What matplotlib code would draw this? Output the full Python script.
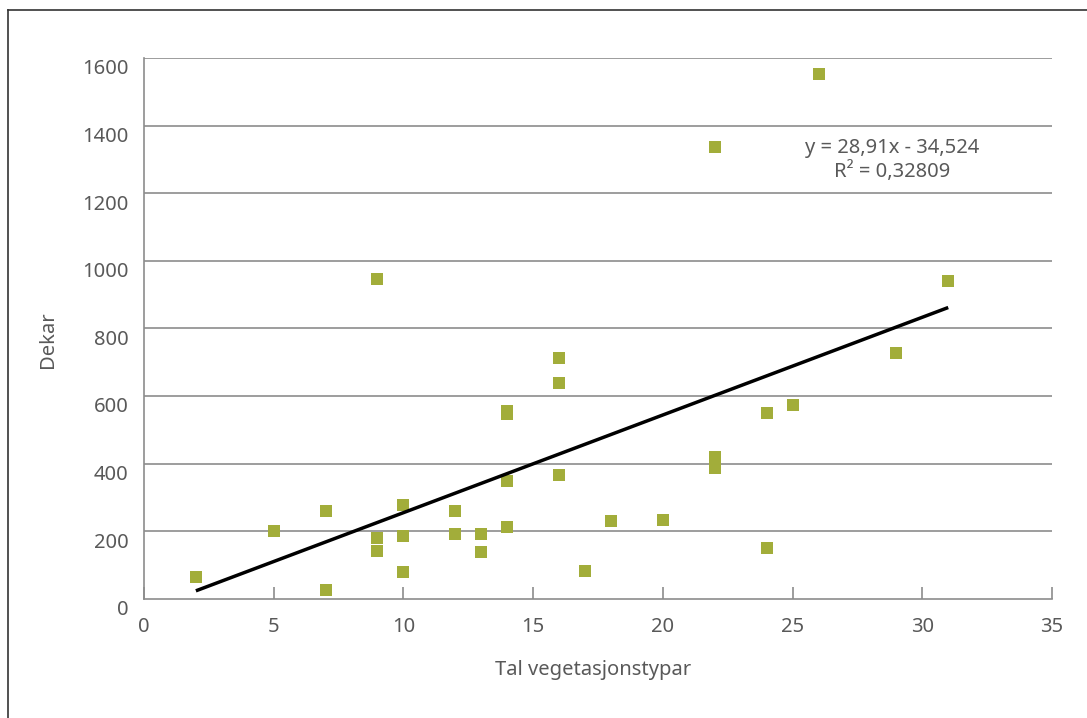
import matplotlib
matplotlib.use("Agg")
import matplotlib.pyplot as plt
import matplotlib.transforms as mtransforms
from matplotlib.lines import Line2D
import numpy as np

# data
tal = [2, 5, 7, 7, 9, 9, 9, 10, 10, 10, 12, 12, 13, 13, 14, 14, 14, 14,
       16, 16, 16, 17, 18, 20, 22, 22, 22, 24, 24, 25, 26, 29, 31]
dekar = [65, 201, 260, 26, 945, 180, 141, 278, 186, 80, 259, 190, 190, 139,
         555, 546, 349, 211, 713, 639, 366, 83, 231, 234, 1336, 419, 387,
         550, 151, 574, 1553, 726, 939]

# trendline from the label
slope = 28.91
intercept = -34.524
r2 = 0.32809
trend_x = [2, 31]

grey = "#595959"
gridc = "#8c8c8c"
green = "#a2ad3a"
fs = 14.5

plt.rcParams['font.family'] = ['Noto Sans', 'DejaVu Sans']

fig = plt.figure(figsize=(10.87, 7.18), dpi=100)
W, H = 1087, 718
ax = fig.add_axes([144 / W, 1 - 598.7 / H, (1052 - 144) / W, (598.7 - 58) / H])

ax.scatter(tal, dekar, marker="s", s=78, color=green, linewidths=0, zorder=3)
tx = np.array(trend_x)
ax.plot(tx, slope * tx + intercept, color="black", lw=2.5, zorder=4,
        solid_capstyle="butt")

ax.set_xlim(0, 35)
ax.set_ylim(0, 1600)
ax.set_xticks(range(0, 36, 5))
ax.set_yticks(range(0, 1601, 200))
for yv in range(200, 1601, 200):
    ax.axhline(yv, color=gridc, lw=1.2, zorder=1)

for s in ["top", "right"]:
    ax.spines[s].set_visible(False)
for s in ["left", "bottom"]:
    ax.spines[s].set_color(gridc)
    ax.spines[s].set_linewidth(1.2)

ax.tick_params(axis="x", direction="in", length=9, width=1.2, color=gridc,
               labelsize=fs, labelcolor=grey, pad=13)
ax.tick_params(axis="y", length=0, labelsize=fs, labelcolor=grey, pad=11)

# excel puts the y labels a bit below their gridline
off = mtransforms.ScaledTranslation(0, -9 / 100, fig.dpi_scale_trans)
for lab in ax.get_yticklabels():
    lab.set_transform(lab.get_transform() + off)

fig.text(48 / W, 1 - 340 / H, "Dekar", rotation=90, ha="center", va="center",
         fontsize=fs, color=grey)
fig.text(593 / W, 1 - 670 / H, "Tal vegetasjonstypar", ha="center",
         va="center", fontsize=fs, color=grey)

eq = "y = 28,91x - 34,524\nR\u00b2 = 0,32809"
fig.text(892 / W, 1 - 160 / H, eq, ha="center", va="center",
         multialignment="center", fontsize=fs, color=grey, linespacing=1.15)

# outer frame (only left and top show)
fig.add_artist(Line2D([8 / W, 8 / W], [0, 1 - 10 / H], color="#333333",
                      lw=1.2, transform=fig.transFigure))
fig.add_artist(Line2D([8 / W, 1], [1 - 10 / H, 1 - 10 / H], color="#333333",
                      lw=1.2, transform=fig.transFigure))

fig.savefig("out.png", dpi=100)
